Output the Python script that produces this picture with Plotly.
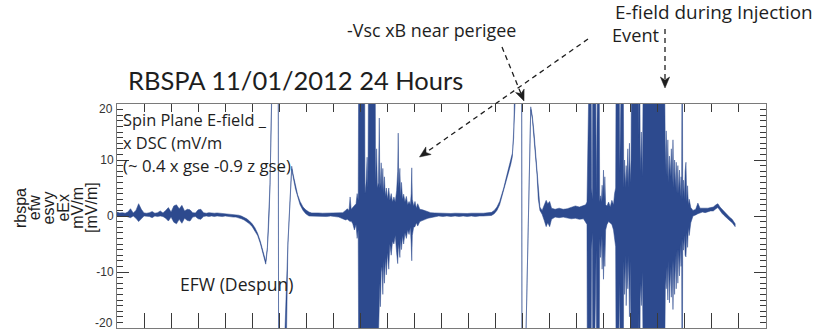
import math
import plotly.graph_objects as go

# ---------------------------------------------------------------------------
# RBSP-A EFW despun spin-plane E-field, 2012-11-01, min/max envelope per bin
# ---------------------------------------------------------------------------
hours = [
    # quiet, then first perigee pass
    0.00, 0.10, 0.20, 0.30, 0.40, 0.50, 0.60, 0.70, 0.80, 0.90,
    1.00, 1.10, 1.20, 1.30, 1.40, 1.50, 1.60, 1.70, 1.80, 1.90,
    2.00, 2.10, 2.20, 2.30, 2.40, 2.50, 2.60, 2.70, 2.80, 2.90,
    3.00, 3.10, 3.20, 3.30, 3.40, 3.50, 3.60, 3.70, 3.80, 3.90,
    4.00, 4.10, 4.20, 4.30, 4.40, 4.50, 4.60, 4.70, 4.80, 4.90,
    5.00, 5.10, 5.20, 5.30, 5.40, 5.50, 5.56, 5.62, 5.66, 5.72,
    5.80, 5.96, 5.98, 6.19, 6.20, 6.32, 6.46, 6.52, 6.60, 6.68,
    6.77, 6.88, 6.98, 7.10, 7.20,
    # first burst
    7.30, 7.45, 7.60, 7.75, 7.90, 8.05, 8.20, 8.35, 8.45, 8.52,
    8.58, 8.62, 8.66, 8.72, 8.78, 8.84, 8.88, 8.92, 8.95, 9.15,
    9.17, 9.21, 9.25, 9.28, 9.32, 9.54, 9.56, 9.60, 9.63, 9.67,
    9.70, 9.72, 9.74, 9.77, 9.80, 9.83, 9.86, 9.89, 9.92, 9.96,
    10.00, 10.05, 10.09, 10.14, 10.19, 10.24, 10.29, 10.34, 10.38, 10.40,
    10.42, 10.46, 10.49, 10.52, 10.56, 10.60, 10.65, 10.70, 10.75, 10.80,
    10.85, 10.88, 10.90, 10.92, 10.97, 11.02, 11.07, 11.12, 11.20, 11.30,
    11.40, 11.50, 11.60, 11.75,
    # quiet, second perigee pass
    11.90, 12.05, 12.20, 12.35, 12.50, 12.65, 12.80, 12.95, 13.10, 13.25,
    13.40, 13.55, 13.70, 13.85, 13.95, 14.05, 14.15, 14.23, 14.30, 14.38,
    14.47, 14.56, 14.62, 14.67, 14.72, 14.78, 14.96, 14.98, 15.11, 15.12,
    15.30, 15.36, 15.42, 15.48, 15.53, 15.58, 15.64, 15.72, 15.80, 15.87,
    15.93, 16.00, 16.07, 16.20, 16.35, 16.50, 16.65, 16.80, 16.95, 17.10,
    17.25, 17.33, 17.38,
    # injection event
    17.40, 17.52, 17.55, 17.58, 17.60, 17.69, 17.72, 17.75, 17.82, 17.85,
    17.88, 17.91, 17.94, 17.97, 17.99, 18.02, 18.04, 18.07, 18.12, 18.18,
    18.24, 18.30, 18.36, 18.40, 18.44, 18.47, 18.56, 18.59, 18.62, 18.71,
    18.74, 18.77, 18.80, 18.83, 18.86, 18.89, 18.92, 18.95, 18.98, 19.01,
    19.04, 19.27, 19.30, 19.32, 19.35, 19.39, 19.43, 19.46, 19.49, 20.22,
    20.25, 20.28, 20.31, 20.34, 20.37, 20.40, 20.43, 20.46, 20.50, 20.53,
    20.56, 20.59, 20.62, 20.65, 20.68, 20.71, 20.74, 20.77, 20.80, 20.83,
    20.86, 20.88, 20.90, 20.92, 20.95, 20.98, 21.01, 21.04, 21.07, 21.10,
    21.13, 21.16, 21.22,
    # tail
    21.30, 21.40, 21.48, 21.56, 21.65, 21.75, 21.85, 21.95, 22.05, 22.15,
    22.22, 22.30, 22.37, 22.45, 22.55, 22.65, 22.75, 22.86,
]

e_lo = [
    -0.1, 0.0, 0.0, 0.0, -0.1, -0.3, 0.0, -0.4, -1.0, -0.5,
    0.0, 0.0, -0.1, -0.3, 0.0, -0.1, 0.0, -0.1, -0.4, -0.9,
    -0.2, -1.1, -1.4, -0.6, -1.3, -0.4, -0.8, -0.9, -0.2, -0.1,
    -0.5, -0.6, -0.1, 0.0, -0.1, 0.0, -0.1, 0.0, 0.0, -0.1,
    0.0, -0.1, -0.1, -0.2, -0.2, -0.3, -0.5, -0.7, -1.0, -1.4,
    -1.9, -2.6, -3.5, -4.9, -6.7, -8.6, -6.0, -0.5, 5.6, 20.0,
    45, 45, -45, -45, -22, -5.2, 8.4, 6.8, 4.8, 3.3,
    2.0, 1.0, 0.4, 0.0, -0.1,

    0.0, 0.0, -0.1, -0.1, 0.0, -0.1, -0.2, -0.5, -0.7, -0.6,
    -0.8, -1.0, -0.9, -1.4, -2.5, -1.5, -4.0, -2.5, -45, -45,
    -30, -30, -30, -30, -45, -45, -30, -30, -24, -20,
    -16, -12, -16.2, -10, -9.0, -14, -8.0, -12, -7.5, -10.5,
    -6.5, -9.5, -5.0, -7.0, -4.5, -5.0, -3.5, -6.5, -8.5, -6.0,
    -5.0, -7.4, -4.0, -6.0, -3.5, -5.0, -3.0, -4.0, -2.5, -3.3,
    -2.0, -5.0, -8.0, -3.5, -2.0, -1.9, -1.2, -1.8, -1.0, -0.8,
    -0.6, -0.4, -0.2, -0.1,

    0.0, -0.1, 0.0, -0.1, 0.0, -0.1, 0.0, -0.1, 0.0, -0.1,
    0.0, 0.0, 0.0, 0.1, 0.4, 1.0, 2.0, 3.1, 4.4, 6.0,
    7.6, 9.2, 10.6, 13.5, 20.0, 45, 45, -45, -45, -22,
    19.0, 17.3, 14.5, 10.8, 7.5, 3.0, 1.0, 0.3, -0.8, -1.9,
    -1.2, -1.9, -0.6, -0.2, -0.3, -0.2, -0.3, -0.5, -0.4, -0.6,
    -0.5, -1.0, -1.5,

    -45, -45, -6.0, -3.0, -45, -45, -6.0, -45, -45, -4.0,
    -7.4, -3.5, -9.5, -4.0, -11.3, -5.0, -9.0, -2.5, -1.5, -1.0,
    -1.2, -1.5, -2.5, -4.0, -5.5, -45, -45, -12, -45, -45,
    -8, -14, -7, -16, -8, -13, -7, -18, -8, -15,
    -45, -45, -17, -45, -12, -16, -10, -17, -45, -45,
    -22, -11, -13, -9, -15, -8, -15.5, -9, -14.5, -8,
    -16.7, -8, -14, -7, -13, -6, -12, -6, -10.7, -5,
    -9, -4, -45, -4, -6.1, -3.5, -7.0, -7.3, -3.0, -5.6,
    -2.0, -3.5, -1.2,

    0.0, 0.2, 0.4, 0.6, 0.7, 0.6, 0.7, 0.9, 0.9, 1.3,
    1.5, 0.9, 0.5, 0.1, -0.4, -0.8, -1.2, -1.9,
]

e_hi = [
    0.7, 0.55, 0.6, 0.5, 0.7, 1.3, 0.55, 1.0, 2.2, 1.2,
    0.55, 0.5, 0.6, 0.8, 0.5, 0.6, 0.9, 0.55, 1.0, 1.5,
    0.7, 1.8, 2.0, 1.3, 1.9, 0.9, 1.2, 1.1, 0.6, 0.55,
    1.1, 1.2, 0.6, 0.5, 0.6, 0.5, 0.5, 0.55, 0.5, 0.5,
    0.45, 0.4, 0.35, 0.3, 0.25, 0.15, 0.0, -0.2, -0.5, -0.9,
    -1.4, -2.1, -3.1, -4.5, -6.2, -8.1, -5.6, 0.0, 6.0, 20.4,
    45, 45, -45, -45, -22, -4.8, 8.9, 7.3, 5.3, 3.8,
    2.6, 1.6, 1.1, 0.7, 0.55,

    0.5, 0.55, 0.5, 0.5, 0.55, 0.6, 0.6, 0.6, 1.0, 1.3,
    1.0, 3.4, 1.2, 1.6, 1.8, 2.2, 4.0, 2.8, 45, 45,
    4.0, 6.0, 10.5, 5.0, 45, 45, 6.0, 12.0, 5.0, 6.0,
    17.5, 5.0, 6.0, 9.5, 4.5, 8.5, 4.0, 7.0, 3.5, 5.0,
    3.0, 5.0, 2.8, 4.0, 2.5, 3.4, 2.5, 4.5, 8.0, 14.8,
    5.0, 8.5, 3.5, 6.0, 3.0, 3.9, 2.5, 3.5, 2.0, 2.6,
    2.0, 4.0, 8.6, 3.0, 1.8, 2.6, 1.4, 2.2, 1.2, 1.1,
    0.9, 0.8, 0.6, 0.55,

    0.5, 0.45, 0.5, 0.45, 0.5, 0.45, 0.5, 0.45, 0.5, 0.45,
    0.5, 0.5, 0.55, 0.65, 1.0, 1.6, 2.6, 3.7, 5.0, 6.6,
    8.2, 9.8, 11.2, 14.0, 20.4, 45, 45, -45, -45, -22,
    19.5, 17.8, 15.0, 11.3, 8.0, 3.6, 1.6, 1.0, 2.0, 2.8,
    2.2, 2.6, 1.4, 1.2, 1.4, 1.2, 1.3, 1.6, 1.8, 1.6,
    1.9, 2.0, 2.5,

    45, 45, 5.0, 3.0, 45, 45, 4.0, 45, 45, 2.5,
    3.6, 2.5, 5.5, 3.0, 8.2, 3.0, 7.0, 2.0, 1.8, 2.5,
    1.6, 2.8, 2.0, 4.0, 5.0, 45, 45, 8, 45, 45,
    5, 10, 5, 9, 6, 12, 5, 13, 6, 10,
    45, 45, 14, 45, 8, 15, 7, 13, 45, 45,
    18, 8, 15.2, 7, 13.6, 6, 10.7, 7, 12.0, 6,
    13.6, 5, 10.0, 5, 9.6, 4, 9.0, 4, 8.2, 3.5,
    7.0, 3, 45, 3, 6.4, 3.0, 8.0, 9.6, 2.5, 5.4,
    2.0, 3.0, 1.5,

    1.0, 1.2, 2.3, 1.4, 1.4, 1.3, 1.4, 1.5, 1.6, 2.0,
    2.2, 1.6, 1.2, 0.8, 0.2, -0.2, -0.6, -1.4,
]

assert len(hours) == len(e_lo) == len(e_hi)

y_tick_vals = [-20, -10, 0, 10, 20]
y_tick_text = ["-20", "-10", "0", "10", "20"]
y_title_lines = ["rbspa", "efw", "esvy", "eEx", "mV/m", "[mV/m]"]

title_text = "RBSPA 11/01/2012 24 Hours"
legend_lines = ["Spin Plane E-field _", "x DSC (mV/m", "(~ 0.4 x gse -0.9 z gse)"]

# ---------------------------------------------------------------------------
W, H = 832, 331
L, R, T, B = 117, 766, 104, 328          # plot box edges, page pixels
BLUE = "#2d4a8e"
INK = "#1e1e1e"
TITLE_FONT = "Lato, 'Open Sans', sans-serif"
TEXT_FONT = "'Open Sans', Lato, sans-serif"
AXIS_FONT = "'Liberation Sans', Arial, sans-serif"


def px(x):
    return (x - L) / (R - L)


def py(y):
    return (B - y) / (B - T)


# envelope polygon: max going forward, min coming back
env_x = hours + hours[::-1]
env_y = e_hi + e_lo[::-1]

fig = go.Figure()
fig.add_trace(go.Scatter(
    x=env_x, y=env_y, mode="lines", fill="toself",
    fillcolor=BLUE, line=dict(color=BLUE, width=0.5),
    hoverinfo="skip", showlegend=False,
))
# carrier for the top axis
fig.add_trace(go.Scatter(x=[0, 24], y=[0, 0], xaxis="x2", mode="lines",
                         line=dict(width=0), hoverinfo="skip", showlegend=False))

annotations = []
shapes = []


def text(s, x, y, size, family=TEXT_FONT, **kw):
    annotations.append(dict(
        text=s, xref="paper", yref="paper", x=px(x), y=py(y),
        xanchor="left", yanchor="middle", showarrow=False,
        font=dict(family=family, size=size, color=INK), **kw))


text(title_text, 126, 80, 25.5, family=TITLE_FONT)
text("-Vsc xB near perigee", 345, 30, 17.9)
text("E-field during Injection", 613, 12, 18.9)
text("Event", 610, 35, 18.2)
text(legend_lines[0], 121, 119, 16.4)
text(legend_lines[1], 121, 142.3, 16.4)
text(legend_lines[2], 121, 165.6, 16.8)
text("EFW (Despun)", 178, 284, 17.6)

# rotated y-axis title, one annotation per line for tight leading
for i, line in enumerate(y_title_lines):
    annotations.append(dict(
        text=line, xref="paper", yref="paper", x=px(20 + i * 14.2), y=py(208),
        xanchor="center", yanchor="middle", showarrow=False, textangle=-90,
        font=dict(family=AXIS_FONT, size=16, color=INK)))

# the end labels of the y scale sit just inside the frame
for val, lab, shift in [(20, "20", -5), (-20, "-20", 5)]:
    annotations.append(dict(
        text=lab, xref="paper", yref="y", x=px(115), y=val, yshift=shift,
        xanchor="right", yanchor="middle", showarrow=False,
        font=dict(family=AXIS_FONT, size=12, color="#333")))


def dashed_arrow(x0, y0, x1, y1):
    dx, dy = x1 - x0, y1 - y0
    n = math.hypot(dx, dy)
    ux, uy = dx / n, dy / n
    nx, ny = -uy, ux
    hl, hw, notch = 11.0, 4.6, 8.0
    bx, by = x1 - ux * notch, y1 - uy * notch
    shapes.append(dict(type="line", xref="paper", yref="paper",
                       x0=px(x0), y0=py(y0), x1=px(bx), y1=py(by),
                       line=dict(color=INK, width=1.3, dash="5px,4px")))
    pts = [(x1, y1),
           (x1 - ux * hl + nx * hw, y1 - uy * hl + ny * hw),
           (bx, by),
           (x1 - ux * hl - nx * hw, y1 - uy * hl - ny * hw)]
    path = "M " + " L ".join(f"{px(a):.5f},{py(b):.5f}" for a, b in pts) + " Z"
    shapes.append(dict(type="path", xref="paper", yref="paper", path=path,
                       fillcolor=INK, line=dict(color=INK, width=0.5)))


dashed_arrow(502, 47, 524, 101)
dashed_arrow(588, 39, 419.5, 157)
dashed_arrow(665, 29, 665, 88)

tick_col = "#3a3a3a"
frame_col = "#7a7a7a"

fig.update_layout(
    width=W, height=H,
    margin=dict(l=L, r=W - R, t=T, b=H - B, pad=0),
    paper_bgcolor="white", plot_bgcolor="white",
    showlegend=False,
    xaxis=dict(range=[0, 24], tick0=0, dtick=1, ticks="inside", ticklen=15,
               tickwidth=1, tickcolor=tick_col, showticklabels=False,
               showline=True, linecolor=frame_col, linewidth=1,
               showgrid=False, zeroline=False),
    xaxis2=dict(range=[0, 24], overlaying="x", side="top", anchor="y",
                tick0=0, dtick=1, ticks="inside", ticklen=8, tickwidth=1,
                tickcolor=tick_col, showticklabels=False, showline=True,
                linecolor=frame_col, linewidth=1, showgrid=False,
                zeroline=False),
    yaxis=dict(range=[-20, 20], tickmode="array", tickvals=y_tick_vals,
               ticktext=["" if abs(v) == 20 else t
                         for v, t in zip(y_tick_vals, y_tick_text)],
               ticks="inside", ticklen=12, tickwidth=1,
               tickcolor=tick_col, mirror="ticks", showline=True,
               linecolor=frame_col, linewidth=1, showgrid=False,
               zeroline=False,
               tickfont=dict(family=AXIS_FONT, size=12, color="#333"),
               minor=dict(tickmode="linear", tick0=0, dtick=1, ticks="inside",
                          ticklen=6, tickwidth=1, tickcolor=tick_col,
                          showgrid=False)),
    annotations=annotations,
    shapes=shapes,
)

fig.write_html("out.html")
